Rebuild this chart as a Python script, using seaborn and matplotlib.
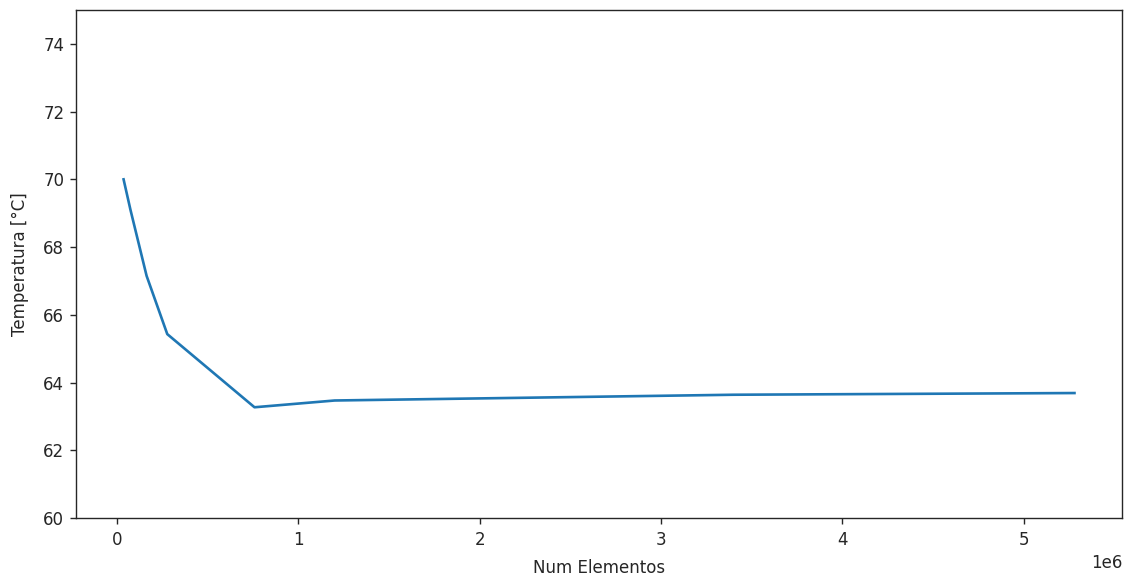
import matplotlib
matplotlib.use("Agg")
import matplotlib.pyplot as plt
import seaborn as sns
import pandas as pd

# Mesh convergence: max temperature vs number of elements
num_elementos = [36000, 74000, 163000, 277000, 758000, 1200000, 3400000, 5280000]
temperatura = [70.0, 69.1, 67.15, 65.43, 63.27, 63.47, 63.64, 63.69]

df = pd.DataFrame({"Num Elementos": num_elementos, "Temperatura [°C]": temperatura})

plt.rcParams.update({
    "font.family": ["DejaVu Sans"],
    "font.size": 12,
    "text.color": "#262626",
    "axes.labelcolor": "#262626",
    "xtick.color": "#262626",
    "ytick.color": "#262626",
    "axes.edgecolor": "#262626",
    "axes.linewidth": 1.0,
    "xtick.major.size": 4.2,
    "ytick.major.size": 4.2,
    "xtick.major.width": 1.0,
    "ytick.major.width": 1.0,
    "xtick.major.pad": 5.5,
    "ytick.major.pad": 4.2,
})

fig = plt.figure(figsize=(11.28, 5.75), dpi=100)
ax = fig.add_axes([0.0674, 0.0991, 0.9273, 0.8835])
sns.lineplot(data=df, x="Num Elementos", y="Temperatura [°C]", ax=ax,
             color="#1f77b4", linewidth=1.9)
ax.set_ylim(60, 75)
ax.set_yticks([60, 62, 64, 66, 68, 70, 72, 74])
ax.set_xlabel("Num Elementos", labelpad=6.5)
ax.set_ylabel("Temperatura [°C]", labelpad=10.5)

fig.savefig("out.png", dpi=100)
